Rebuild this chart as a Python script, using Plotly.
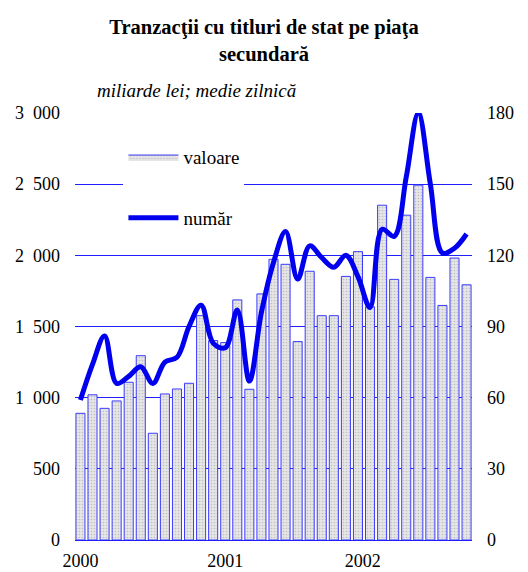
import plotly.graph_objects as go

months = list(range(33))  # Jan 2000 .. Sep 2002
valoare = [890, 1020, 925, 977, 1108, 1295, 750, 1026, 1061, 1101, 1576, 1401,
           1387, 1687, 1059, 1729, 1972, 1937, 1394, 1888, 1576, 1576, 1852, 2026,
           1638, 2352, 1831, 2282, 2493, 1845, 1648, 1981, 1793]
numar = [59, 74, 86, 66, 69, 73, 66, 75, 77, 90, 99, 83,
         81, 97, 67, 96, 117, 130, 110, 124, 119, 115, 120, 111,
         98, 131, 128, 153, 180, 150, 121, 123, 129]
year_ticks = [0, 12, 23.4]
year_labels = ["2000", "2001", "2002"]
left_ticks = [0, 500, 1000, 1500, 2000, 2500, 3000]
left_labels = ["0", "500", "1\u2002000", "1\u2002500", "2\u2002000", "2\u2002500", "3\u2002000"]
right_ticks = [0, 30, 60, 90, 120, 150, 180]

FONT = "Liberation Serif"
BLUE = "#2020ff"
BAR_FILL = "#e6e6e6"
BAR_EDGE = "#3b3bff"

fig = go.Figure()
fig.add_trace(go.Bar(
    x=months, y=valoare, name="valoare", width=0.75, showlegend=False,
    marker=dict(color=BAR_FILL, line=dict(color=BAR_EDGE, width=1),
                pattern=dict(shape=".", fgcolor="#9a9a9a", bgcolor=BAR_FILL,
                             size=3, solidity=0.25)),
))
# legend entry for the bars (wide filled swatch)
fig.add_trace(go.Scatter(
    x=[None], y=[None], name="valoare", mode="lines", fill="toself",
    legendgroup="a", fillcolor=BAR_FILL,
    fillpattern=dict(shape=".", fgcolor="#9a9a9a", bgcolor=BAR_FILL, size=3, solidity=0.25),
    line=dict(color=BAR_EDGE, width=1),
))
fig.add_trace(go.Scatter(
    x=months, y=numar, name="număr", yaxis="y2", mode="lines",
    legendgroup="b",
    line=dict(color="#0000ee", width=5, shape="spline", smoothing=1.0),
))

fig.update_layout(
    width=528, height=572,
    margin=dict(l=75, r=56, t=113, b=32, autoexpand=False),
    paper_bgcolor="white", plot_bgcolor="white",
    font=dict(family=FONT, size=18, color="black"),
    title=dict(text="<b>Tranzacţii cu titluri de stat pe piaţa<br>secundară</b>",
               x=0.5, xanchor="center", y=0.9397, yanchor="top",
               font=dict(family=FONT, size=20.5, color="black")),
    showlegend=True,
    legend=dict(x=0.122, y=0.941, xanchor="left", yanchor="top",
                bgcolor="white", borderwidth=0,
                font=dict(family=FONT, size=19),
                itemwidth=50, traceorder="grouped", tracegroupgap=33),
    xaxis=dict(range=[-0.45, 32.45], tickvals=year_ticks, ticktext=year_labels,
               showgrid=False, showline=True, linecolor=BLUE, linewidth=1,
               ticks="", zeroline=False, automargin=False,
               ticklabelstandoff=4, tickfont=dict(size=18)),
    yaxis=dict(range=[0, 3000], tickvals=left_ticks, ticktext=left_labels,
               showgrid=True, gridcolor=BLUE, gridwidth=1, zeroline=False,
               showline=False, ticks="", ticklabelstandoff=14, automargin=False,
               tickfont=dict(size=18)),
    yaxis2=dict(range=[0, 180], tickvals=right_ticks, overlaying="y", side="right",
                showgrid=False, zeroline=False, showline=False, ticks="",
                ticklabelstandoff=14, automargin=False, tickfont=dict(size=18)),
    annotations=[dict(text="<i>miliarde lei; medie zilnică</i>", xref="paper", yref="paper",
                      x=(95 - 75) / 397, y=(540 - 91) / 427, xanchor="left", yanchor="middle",
                      showarrow=False, font=dict(family=FONT, size=19))],
)

fig.write_html("out.html", config={"displayModeBar": False},
               post_script="document.body.style.margin='0px';")
